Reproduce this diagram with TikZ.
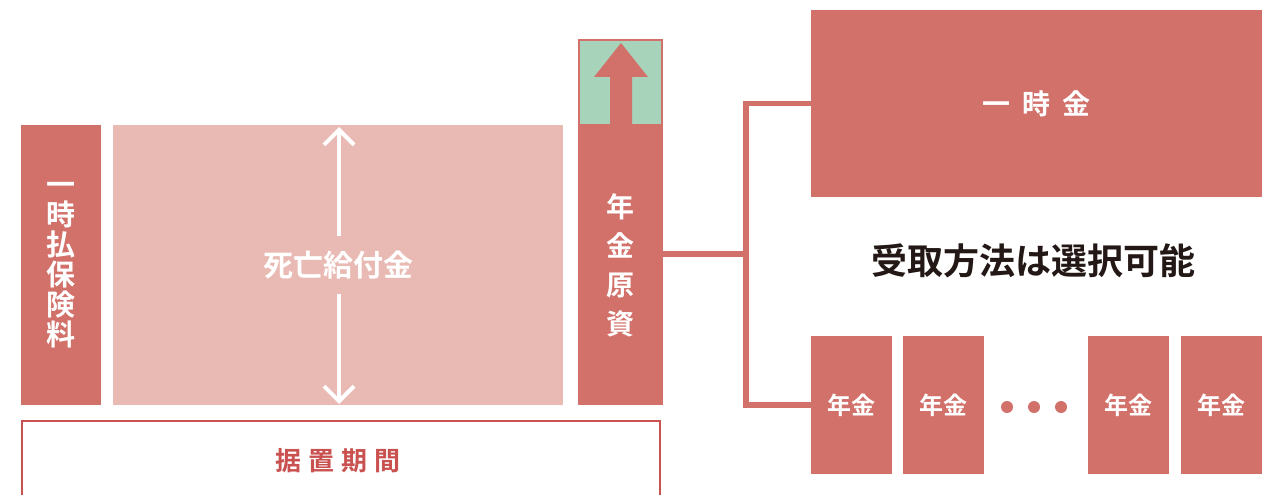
\documentclass[tikz,border=0pt]{standalone}
\usepackage{fontspec}
\setmainfont{Noto Sans CJK JP}[BoldFont={Noto Sans CJK JP Bold}]
\usetikzlibrary{arrows.meta}
\definecolor{cred}{HTML}{D2706A}
\definecolor{cpink}{HTML}{E8BAB3}
\definecolor{cgreen}{HTML}{A8D3BB}
\definecolor{cborder}{HTML}{C9514F}
\definecolor{cblack}{HTML}{231815}
\tikzset{
  redbox/.style={fill=cred, draw=none, inner sep=0pt, text=white, font=\bfseries},
  pinkbox/.style={fill=cpink, draw=none, inner sep=0pt, text=white, font=\bfseries},
  nenbox/.style={redbox, minimum width=81pt, minimum height=138pt, font=\bfseries\fontsize{24}{24}\selectfont, text height=21.12pt, text depth=2.88pt},
  conn/.style={draw=cred, line width=5.5pt},
  dblarrow/.style={draw=white, line width=4pt, -{Straight Barb[length=15pt,width=30pt]}},
  reddot/.style={circle, fill=cred, inner sep=0pt, minimum size=12pt}
}
\begin{document}
\begin{tikzpicture}[x=1pt,y=-1pt]
\useasboundingbox (0,0) rectangle (1278,495);
\clip (0,0) rectangle (1278,495);
% left column
\node[redbox, minimum width=80pt, minimum height=280pt, align=center,
      font=\bfseries\fontsize{29}{30}\selectfont] (hoken) at (61,265)
  {一\\時\\払\\保\\険\\料};
\node[pinkbox, minimum width=450pt, minimum height=280pt] (shibou) at (338,265) {};
\node[text=white, font=\bfseries\fontsize{30}{30}\selectfont, inner sep=0pt,
      text height=26.4pt, text depth=3.6pt] (shiboutxt) at (338,265) {死亡給付金};
\coordinate (aup0) at (339,236);
\coordinate (aup1) at (339,127);
\coordinate (adn0) at (339,294);
\coordinate (adn1) at (339,404);
\draw[dblarrow] (aup0) -- (aup1);
\draw[dblarrow] (adn0) -- (adn1);
% deferment period
\node[draw=cborder, line width=2.7pt, minimum width=638pt, minimum height=120pt,
      inner sep=0pt, anchor=north] (sueoki) at (341,419.5) {};
\node[text=cborder, font=\bfseries\fontsize{26}{26}\selectfont, inner sep=0pt,
      text height=22.88pt, text depth=3.12pt] (sueokitxt) at (338,461)
  {据\hspace{7pt}置\hspace{7pt}期\hspace{7pt}間};
% annuity fund
\node[fill=cgreen, draw=cred, line width=2pt, minimum width=83pt, minimum height=85pt,
      inner sep=0pt] (green) at (620.5,82.5) {};
\node[redbox, minimum width=85pt, minimum height=280pt, align=center,
      font=\bfseries\fontsize{28}{39}\selectfont] (gensi) at (620.5,265)
  {年\\金\\原\\資};
\fill[cred] (610,125) -- (610,77) -- (594,77) -- (621,43) -- (648,77) -- (632,77) -- (632,125) -- cycle;
% right side
\node[redbox, minimum width=451pt, minimum height=187pt,
      font=\bfseries\fontsize{28}{28}\selectfont, text height=24.64pt, text depth=3.36pt]
  (ichiji) at (1036.5,103.5) {一\hspace{12pt}時\hspace{12pt}金};
\node[text=cblack, font=\bfseries\fontsize{36}{36}\selectfont, inner sep=0pt,
      text height=31.68pt, text depth=4.32pt] (choice) at (1033,261) {受取方法は選択可能};
\node[nenbox] (n1) at (851.5,405) {年金};
\node[nenbox] (n2) at (943.5,405) {年金};
\node[nenbox] (n3) at (1128.5,405) {年金};
\node[nenbox] (n4) at (1221.5,405) {年金};
\node[reddot] (d1) at (1007,407) {};
\node[reddot] (d2) at (1034,407) {};
\node[reddot] (d3) at (1061,407) {};
% connectors
\coordinate (split) at (746,254);
\draw[conn] ([yshift=11pt]gensi.east) -- (split);
\draw[conn] (ichiji.west) -| (split) |- (n1.west);
\end{tikzpicture}
\end{document}
